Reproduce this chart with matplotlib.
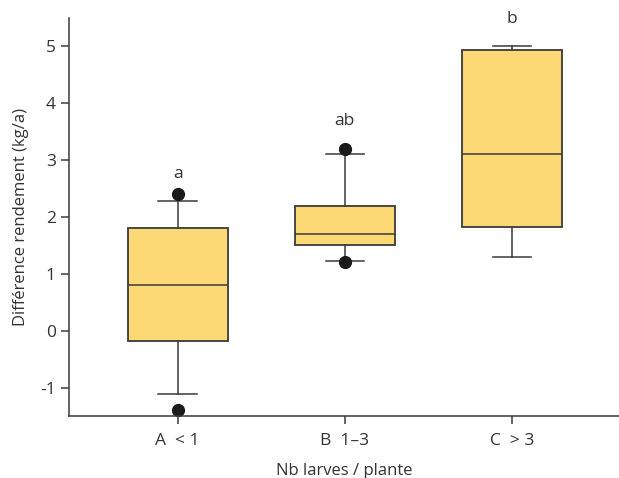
import matplotlib
matplotlib.use("Agg")
import matplotlib.pyplot as plt

categories = ["A  < 1", "B  1–3", "C  > 3"]
q1 = [-0.18, 1.50, 1.82]
median = [0.80, 1.70, 3.10]
q3 = [1.80, 2.20, 4.93]
whislo = [-1.12, 1.22, 1.30]
whishi = [2.28, 3.10, 5.00]
fliers = [[-1.40, 2.40], [1.20, 3.20], []]
letters = ["a", "ab", "b"]
letter_y = [2.76, 3.68, 5.48]

plt.rcParams['font.family'] = ['Open Sans', 'DejaVu Sans']

fig = plt.figure(figsize=(6.19, 4.78), dpi=100)
ax = fig.add_axes([0.1115, 0.1297, 0.8885, 0.8326])

stats = []
for i in range(len(categories)):
    stats.append(dict(q1=q1[i], med=median[i], q3=q3[i], whislo=whislo[i],
                      whishi=whishi[i], fliers=fliers[i], label=categories[i]))

edge = "#3a3a3a"
ax.bxp(stats, positions=[1, 2, 3], widths=0.6, patch_artist=True,
       boxprops=dict(facecolor="#fdd975", edgecolor=edge, linewidth=1.3),
       medianprops=dict(color=edge, linewidth=1.1),
       whiskerprops=dict(color=edge, linewidth=1.1),
       capprops=dict(color=edge, linewidth=1.1),
       capwidths=0.23,
       flierprops=dict(marker="o", markerfacecolor="#1a1a1a", markeredgecolor="#1a1a1a",
                       markersize=8.5))

for i, t in enumerate(letters):
    ax.text(i + 1, letter_y[i], t, ha="center", va="center", fontsize=12.5, color="#333333")

ax.set_xlim(0.35, 3.64)
ax.set_ylim(-1.5, 5.5)
ax.set_yticks([-1, 0, 1, 2, 3, 4, 5])
ax.set_yticklabels(["-1", "0", "1", "2", "3", "4", "5"])
ax.spines["top"].set_visible(False)
ax.spines["right"].set_visible(False)
for s in ["left", "bottom"]:
    ax.spines[s].set_color(edge)
    ax.spines[s].set_linewidth(1.1)
ax.tick_params(axis="both", direction="out", length=6, width=1.1, color=edge,
               labelsize=12.5, labelcolor="#333333")
ax.tick_params(axis="x", pad=6)
ax.set_xlabel("Nb larves / plante", fontsize=12, color="#333333", labelpad=10)
ax.set_ylabel("Différence rendement (kg/a)", fontsize=12, color="#333333", labelpad=8)

fig.savefig("out.png", dpi=100)
